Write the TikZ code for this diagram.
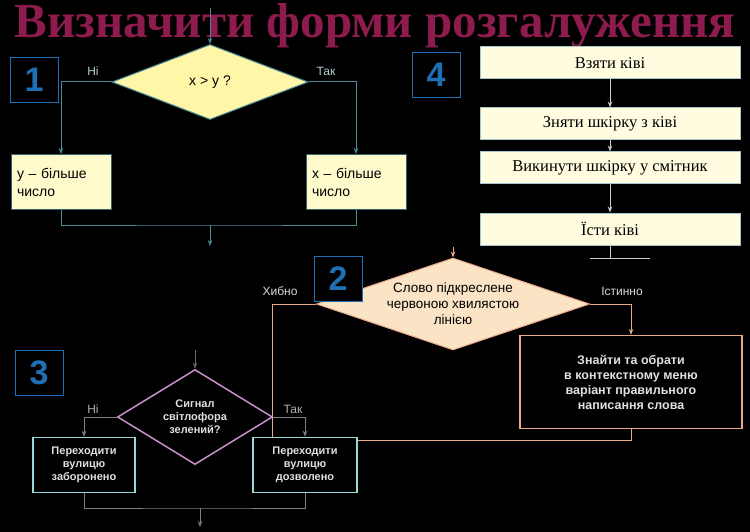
\documentclass[tikz,border=0pt]{standalone}
\usepackage{fontspec}
\setmainfont{Liberation Sans}
\newfontfamily\titlefont{Liberation Serif}
\usetikzlibrary{shapes.geometric,arrows.meta}
\definecolor{ttl}{HTML}{8E1B4E}
\definecolor{numb}{HTML}{1F6FB5}
\definecolor{yel}{HTML}{FFF6A8}
\definecolor{lyel}{HTML}{FFFCE0}
\definecolor{peach}{HTML}{FBE3C6}
\definecolor{peachl}{HTML}{E8A88A}
\definecolor{pnk}{HTML}{C890C8}
\definecolor{teal2}{HTML}{9AD8D8}
\definecolor{ln}{HTML}{4A8C96}
\tikzset{
 numbox/.style={draw=numb,line width=1pt,fill=black,text=numb,font=\bfseries\fontsize{34}{34}\selectfont,minimum width=48pt,minimum height=45pt},
 ybox/.style={draw=ln!70!black,fill=yel!60,line width=1pt,font=\fontsize{14}{18}\selectfont,align=left,minimum width=100pt,minimum height=55pt,text width=88pt},
 kbox/.style={draw=ln!50,fill=lyel,line width=1pt,font=\fontsize{16.5}{18}\selectfont\titlefont,minimum width=260pt,minimum height=32pt},
 gtext/.style={text=black!12,font=\bfseries\fontsize{12.5}{15}\selectfont,align=center},
 arr/.style={-{Stealth[length=6pt]}},
 lab/.style={font=\fontsize{12}{12}\selectfont},
}
\begin{document}
\begin{tikzpicture}[x=1pt,y=-1pt]
\fill[black] (0,0) rectangle (750,532);
\useasboundingbox (0,0) rectangle (750,532);
\node[text=ttl,font=\titlefont\bfseries\fontsize{49}{49}\selectfont] (title) at (375,26) {Визначити форми розгалуження};
% section 1
\node[numbox] (n1) at (34,80) {1};
\node[diamond,draw=ln,fill=yel,line width=1pt,minimum width=196pt,minimum height=75pt,inner sep=0pt,aspect=2.6,font=\fontsize{14}{14}\selectfont] (d1) at (210,82) {x > y ?};
\coordinate (t1) at (210,8);
\draw[ln,line width=1pt,arr] (t1) -- (d1.north);
\node[ybox] (b1l) at (61,182) {y – більше\\число};
\node[ybox] (b1r) at (356,182) {x – більше\\число};
\draw[ln,line width=1pt,arr] (d1.west) -| (b1l.north);
\draw[ln,line width=1pt,arr] (d1.east) -| (b1r.north);
\node[lab,text=ln!40] at (93,71) {Ні};
\node[lab,text=ln!40] at (326,71) {Так};
\coordinate (m1) at (210,225);
\coordinate (e1) at (210,246);
\draw[ln,line width=1pt] (b1l.south) |- (m1) -| (b1r.south);
\draw[ln,line width=1pt,arr] (m1) -- (e1);
% section 4
\node[numbox] (n4) at (436,75) {4};
\node[kbox] (k1) at (610,63) {Взяти ківі};
\node[kbox] (k2) at (610,124) {Зняти шкірку з ківі};
\node[kbox] (k3) at (610,168) {Викинути шкірку у смітник};
\node[kbox] (k4) at (610,229) {Їсти ківі};
\draw[white!80!black,line width=1pt,arr] (k1) -- (k2);
\draw[white!80!black,line width=1pt,arr] (k2) -- (k3);
\draw[white!80!black,line width=1pt,arr] (k3) -- (k4);
\coordinate (e4) at (610,258);
\draw[white!80!black,line width=1pt] (k4) -- (e4) (590,258) -- (650,258);
% section 2
\node[diamond,draw=peachl,fill=peach,line width=1pt,minimum width=273pt,minimum height=92pt,inner sep=0pt,aspect=3,font=\fontsize{13.5}{16}\selectfont,align=center] (d2) at (453,304) {Слово підкреслене\\червоною хвилястою\\лінією};
\node[numbox,fill=black] (n2) at (338,279) {2};
\coordinate (t2) at (453,247);
\draw[peachl,line width=1pt,arr] (t2) -- (d2.north);
\node[draw=peachl,line width=1.2pt,fill=black,minimum width=222pt,minimum height=93pt,gtext] (b2) at (631,382) {Знайти та обрати\\в контекстному меню\\варіант правильного\\написання слова};
\draw[peachl,line width=1pt,arr] (d2.east) -| (b2.north);
\node[lab,text=black!15] at (280,291) {Хибно};
\node[lab,text=black!15] at (622,291) {Істинно};
\coordinate (m2) at (272,440);
\coordinate (m2r) at (631,440);
\draw[peachl,line width=1pt] (d2.west) -| (m2) -- (m2r) -- (b2.south);
% section 3
\node[numbox] (n3) at (39,373) {3};
\node[diamond,draw=pnk,fill=black,line width=1.5pt,minimum width=155pt,minimum height=95pt,inner sep=0pt,aspect=1.6,gtext,font=\bfseries\fontsize{11}{13}\selectfont] (d3) at (195,417) {Сигнал\\світлофора\\зелений?};
\coordinate (t3) at (195,350);
\draw[black!60,line width=1pt,arr] (t3) -- (d3.north);
\node[draw=teal2,line width=1.5pt,fill=black,minimum width=102pt,minimum height=55pt,gtext,font=\bfseries\fontsize{11}{13}\selectfont] (b3l) at (84,465) {Переходити\\вулицю\\заборонено};
\node[draw=teal2,line width=1.5pt,fill=black,minimum width=104pt,minimum height=55pt,gtext,font=\bfseries\fontsize{11}{13}\selectfont] (b3r) at (305,465) {Переходити\\вулицю\\дозволено};
\draw[black!50,line width=1pt,arr] (d3.west) -| (b3l.north);
\draw[black!50,line width=1pt,arr] (d3.east) -| (b3r.north);
\node[lab,text=black!30] at (93,409) {Ні};
\node[lab,text=black!30] at (293,409) {Так};
\coordinate (m3) at (200,508);
\coordinate (e3) at (200,527);
\draw[black!50,line width=1pt] (b3l.south) |- (m3) -| (b3r.south);
\draw[black!50,line width=1pt,arr] (m3) -- (e3);
\end{tikzpicture}
\end{document}
